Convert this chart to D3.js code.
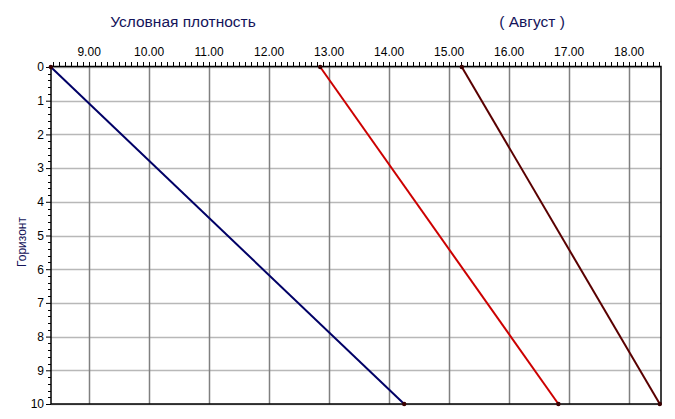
<!DOCTYPE html>
<html><head><meta charset="utf-8">
<script src="https://cdn.jsdelivr.net/npm/d3@7"></script>
<style>body{margin:0;background:#fff}svg{display:block}text{font-family:"Liberation Sans",Arial,sans-serif}</style>
</head><body><svg id="c" width="675" height="419"></svg>
<script>
const xTicks = [9,10,11,12,13,14,15,16,17,18];
const yTicks = [0,1,2,3,4,5,6,7,8,9,10];
const depth = [0, 10];
const seriesBlue = [8.37, 14.26];
const seriesRed = [12.86, 16.83];
const seriesMaroon = [15.22, 18.52];
const seriesNames = ["blue","red","maroon"];
const colors = ["#000066","#cc0000","#5a0000"];

const svg = d3.select("#c");
const L=51, R=661, T=67, B=404;
const x = d3.scaleLinear().domain([8.373, 18.54]).range([L, R]);
const y = d3.scaleLinear().domain([0, 10]).range([T, B]);

// horizontal grid
svg.append("g").selectAll("line").data(yTicks).join("line")
  .attr("x1",L).attr("x2",R).attr("y1",d=>Math.round(y(d))+0.5).attr("y2",d=>Math.round(y(d))+0.5)
  .attr("stroke","#b8b8b8").attr("stroke-width",1.5);
// vertical grid
svg.append("g").selectAll("line").data(xTicks).join("line")
  .attr("x1",d=>Math.round(x(d))+0.5).attr("x2",d=>Math.round(x(d))+0.5).attr("y1",T).attr("y2",B)
  .attr("stroke","#808080").attr("stroke-width",1.5);

// border
svg.append("rect").attr("x",L).attr("y",T-0.5).attr("width",R-L).attr("height",B-T+0.5)
  .attr("fill","none").attr("stroke","#000").attr("stroke-width",1.5);

// top axis
const minorX = d3.range(84, 186).map(v=>v/10).filter(v=>x(v)>=L && x(v)<=R);
const topAxis = d3.axisTop(x).tickValues(xTicks).tickFormat(d3.format(".2f")).tickSize(0).tickPadding(10);
const gt = svg.append("g").attr("transform",`translate(0,${T-1})`).call(topAxis);
gt.select(".domain").remove();
gt.selectAll("text").attr("font-size",12).attr("fill","#000").style("font-family","Liberation Sans, Arial");
svg.append("g").selectAll("line").data(minorX).join("line")
  .attr("x1",d=>Math.round(x(d))+0.5).attr("x2",d=>Math.round(x(d))+0.5).attr("y1",T-1).attr("y2",T-5)
  .attr("stroke","#000").attr("stroke-width",1);

// left axis
const leftAxis = d3.axisLeft(y).tickValues(yTicks).tickFormat(d3.format("d")).tickSize(5).tickPadding(2);
const gl = svg.append("g").attr("transform",`translate(${L},0)`).call(leftAxis);
gl.select(".domain").remove();
gl.selectAll("text").attr("font-size",12).attr("fill","#000").style("font-family","Liberation Sans, Arial");
const minorY = d3.range(0, 101, 2).map(v=>v/10).filter(v=>!Number.isInteger(v));
svg.append("g").selectAll("line").data(minorY).join("line")
  .attr("x1",L-3).attr("x2",L).attr("y1",d=>Math.round(y(d))+0.5).attr("y2",d=>Math.round(y(d))+0.5)
  .attr("stroke","#000").attr("stroke-width",1);

// series
const series = [seriesBlue, seriesRed, seriesMaroon];
const line = d3.line().x(d=>x(d[0])).y(d=>y(d[1]));
series.forEach((s,i)=>{
  const pts = s.map((v,j)=>[v, depth[j]]);
  svg.append("path").datum(pts).attr("d",line).attr("fill","none")
    .attr("stroke",colors[i]).attr("stroke-width",2).attr("class","s-"+seriesNames[i]);
  svg.append("g").selectAll("circle").data(pts).join("circle")
    .attr("cx",d=>x(d[0])).attr("cy",d=>y(d[1])).attr("r",2.2).attr("fill","#3a0000");
});

// titles
svg.append("text").attr("x",183).attr("y",27).attr("text-anchor","middle")
  .attr("font-size",15.5).attr("fill","#14145a").text("Условная плотность");
svg.append("text").attr("x",532).attr("y",27).attr("text-anchor","middle")
  .attr("font-size",15.5).attr("fill","#14145a").text("( Август )");
svg.append("text").attr("transform",`translate(26,242) rotate(-90)`).attr("text-anchor","middle")
  .attr("font-size",12).attr("fill","#14145a").text("Горизонт");
</script></body></html>
